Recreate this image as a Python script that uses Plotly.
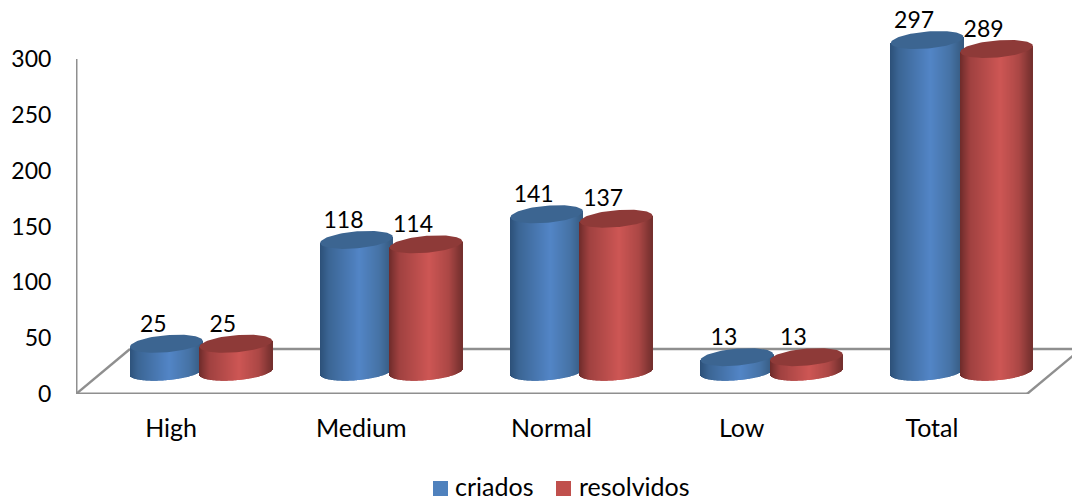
import numpy as np
import plotly.graph_objects as go

# Chart data
categories = ["High", "Medium", "Normal", "Low", "Total"]
criados = [25, 118, 141, 13, 297]
resolvidos = [25, 114, 137, 13, 289]
value_ticks = [0, 50, 100, 150, 200, 250, 300]

WIDTH, HEIGHT = 1072, 497
M_LEFT, M_BOTTOM = 76, 103
FONT = dict(family="Lato, Carlito, sans-serif", size=23, color="#000000")
WORD_FONT = dict(FONT, size=25)

# Scale factors of the two linear axes (pixels per data unit)
PX_X = 190.2
PX_Y = 1.1167
X_RANGE = [-0.5, -0.5 + (WIDTH - M_LEFT) / PX_X]
Y_RANGE = [0, (HEIGHT - M_BOTTOM) / PX_Y]

# Oblique projection: the cylinders stand part-way into the floor
FLOOR_LIFT = 20
RADIUS = 36.3 / PX_X
RY = 8.5 / PX_Y
SHEAR = 3.0 / PX_Y
OFFSETS = {"blue": -4.8 / PX_X, "red": 64.7 / PX_X}
LABEL_DX = -13 / PX_X
LABEL_DY = 18 / PX_Y

BLUE_STOPS = [(0, "#2c5078"), (0.12, "#3b6594"), (0.55, "#5285c6"), (0.82, "#4673a6"), (1, "#35597f")]
RED_STOPS = [(0, "#6e2b2a"), (0.14, "#a04140"), (0.55, "#cd5654"), (0.82, "#ab4745"), (1, "#732f2d")]
BLUE_CAP, RED_CAP = "#3c6591", "#8e3a38"


def shade(stops, t):
    pos = [s[0] for s in stops]
    rgb = [[int(s[1][i:i + 2], 16) for s in stops] for i in (1, 3, 5)]
    return "rgb({},{},{})".format(*(int(round(np.interp(t, pos, c))) for c in rgb))


def cylinder_body(values, offset, stops):
    """One-pixel bar slices per cylinder, shaded across the width."""
    xs, bases, heights, colors = [], [], [], []
    n = int(round(2 * RADIUS * PX_X))
    for i, v in enumerate(values):
        for k in range(n):
            u = (k + 0.5) / n * 2 - 1
            bottom = FLOOR_LIFT - RY * np.sqrt(1 - u * u) + SHEAR * u
            top = v + FLOOR_LIFT + SHEAR * u
            xs.append(i + offset + u * RADIUS)
            bases.append(bottom)
            heights.append(top - bottom)
            colors.append(shade(stops, (u + 1) / 2))
    return go.Bar(x=xs, y=heights, base=bases, width=1 / PX_X, marker=dict(color=colors, line=dict(width=0)),
                  cliponaxis=False, showlegend=False, hoverinfo="skip")


def cap_trace(i, value, offset, color):
    t = np.linspace(0, 2 * np.pi, 90)
    return go.Scatter(
        x=i + offset + RADIUS * np.cos(t),
        y=value + FLOOR_LIFT + SHEAR * np.cos(t) + RY * np.sin(t),
        mode="lines", fill="toself", fillcolor=color, line=dict(width=0, color=color),
        showlegend=False, hoverinfo="skip", cliponaxis=False,
    )


def value_labels(values, offset):
    return go.Scatter(
        x=[i + offset + LABEL_DX for i in range(len(values))],
        y=[v + FLOOR_LIFT + LABEL_DY for v in values],
        text=[str(v) for v in values], mode="text", textposition="middle center",
        textfont=FONT, showlegend=False, hoverinfo="skip", cliponaxis=False,
    )


fig = go.Figure()
fig.add_trace(cylinder_body(criados, OFFSETS["blue"], BLUE_STOPS))
fig.add_trace(cylinder_body(resolvidos, OFFSETS["red"], RED_STOPS))
for i, (a, b) in enumerate(zip(criados, resolvidos)):
    fig.add_trace(cap_trace(i, a, OFFSETS["blue"], BLUE_CAP))
    fig.add_trace(cap_trace(i, b, OFFSETS["red"], RED_CAP))
fig.add_trace(value_labels(criados, OFFSETS["blue"]))
fig.add_trace(value_labels(resolvidos, OFFSETS["red"]))

# Floor and wall edges
depth_x, depth_y = 54 / PX_X, 45 / PX_Y
x0, x1 = -0.5, 4.5
EDGE = dict(color="#8f8f8f", width=3)
THIN = dict(color="#8f8f8f", width=2.4)
shapes = [
    dict(type="line", x0=x0, y0=0, x1=x0, y1=value_ticks[-1], line=EDGE),
    dict(type="line", x0=x0, y0=0, x1=x1, y1=0, line=EDGE),
    dict(type="line", x0=x0, y0=0, x1=x0 + depth_x, y1=depth_y, line=THIN),
    dict(type="line", x0=x1, y0=0, x1=x1 + depth_x, y1=depth_y, line=THIN),
    dict(type="line", x0=x0 + depth_x, y0=depth_y, x1=x1 + depth_x, y1=depth_y, line=THIN),
]
shapes = [dict(s, xref="x", yref="y", layer="below") for s in shapes]

# Legend row below the plot
plot_w, plot_h = WIDTH - M_LEFT, HEIGHT - M_BOTTOM
annotations = []
for name, color, sq_x, txt_x in [("criados", "#4f81bd", 433, 453), ("resolvidos", "#c0504d", 556, 577)]:
    shapes.append(dict(type="rect", xref="paper", yref="paper",
                       x0=(sq_x - M_LEFT) / plot_w, x1=(sq_x + 15 - M_LEFT) / plot_w,
                       y0=(plot_h - 496) / plot_h, y1=(plot_h - 481) / plot_h,
                       fillcolor=color, line=dict(width=0)))
    annotations.append(dict(xref="paper", yref="paper", x=(txt_x - M_LEFT) / plot_w, y=(plot_h - 486) / plot_h,
                            text=name, showarrow=False, xanchor="left", yanchor="middle", font=WORD_FONT))

fig.update_layout(
    width=WIDTH, height=HEIGHT, margin=dict(l=M_LEFT, r=0, t=0, b=M_BOTTOM),
    paper_bgcolor="white", plot_bgcolor="white", barmode="overlay", showlegend=False,
    font=FONT, shapes=shapes, annotations=annotations,
    xaxis=dict(range=X_RANGE, tickvals=list(range(len(categories))), ticktext=categories,
               showgrid=False, zeroline=False, showline=False, ticks="outside", ticklen=12,
               tickcolor="rgba(0,0,0,0)", tickfont=WORD_FONT),
    yaxis=dict(range=Y_RANGE, tickvals=value_ticks, showgrid=False, zeroline=False, showline=False,
               ticks="outside", ticklen=19, tickcolor="rgba(0,0,0,0)", tickfont=FONT),
)

fig.write_html("out.html", config=dict(displayModeBar=False))
